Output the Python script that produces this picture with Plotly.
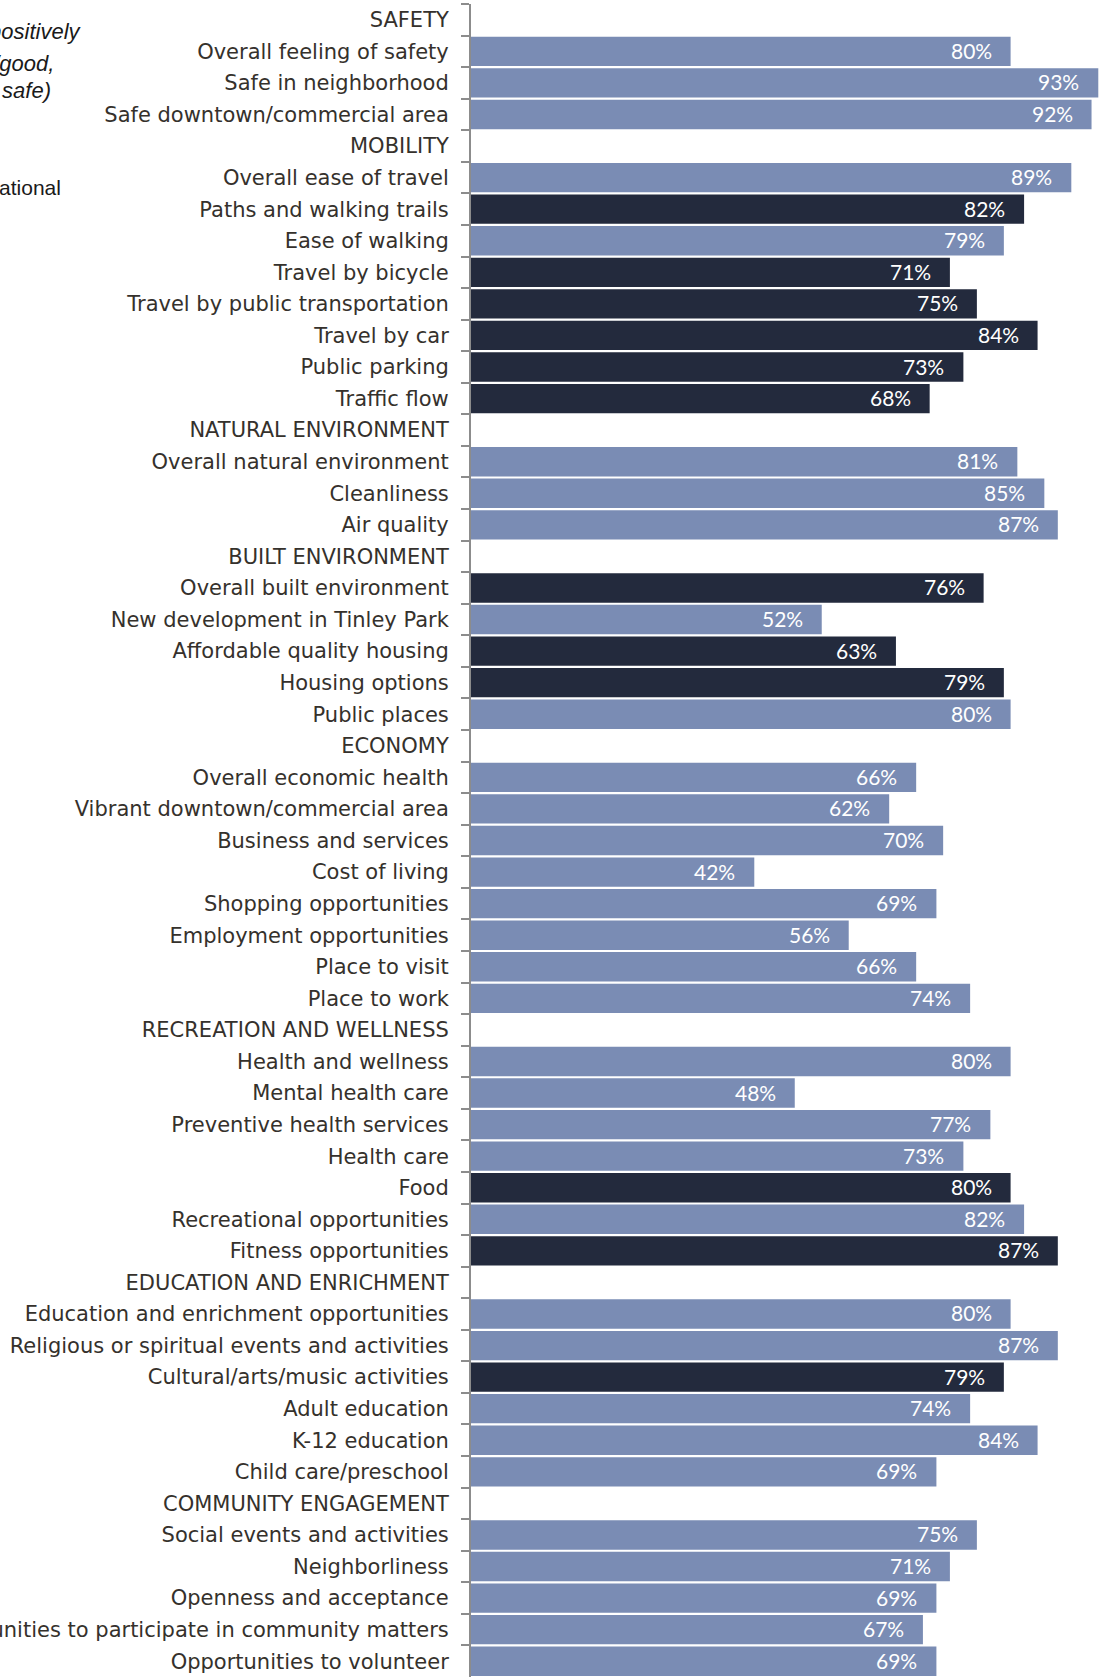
import plotly.graph_objects as go

# Section headers and the items under each (headers carry no bar)
categories = [
    "SAFETY",
    "Overall feeling of safety",
    "Safe in neighborhood",
    "Safe downtown/commercial area",
    "MOBILITY",
    "Overall ease of travel",
    "Paths and walking trails",
    "Ease of walking",
    "Travel by bicycle",
    "Travel by public transportation",
    "Travel by car",
    "Public parking",
    "Traffic flow",
    "NATURAL ENVIRONMENT",
    "Overall natural environment",
    "Cleanliness",
    "Air quality",
    "BUILT ENVIRONMENT",
    "Overall built environment",
    "New development in Tinley Park",
    "Affordable quality housing",
    "Housing options",
    "Public places",
    "ECONOMY",
    "Overall economic health",
    "Vibrant downtown/commercial area",
    "Business and services",
    "Cost of living",
    "Shopping opportunities",
    "Employment opportunities",
    "Place to visit",
    "Place to work",
    "RECREATION AND WELLNESS",
    "Health and wellness",
    "Mental health care",
    "Preventive health services",
    "Health care",
    "Food",
    "Recreational opportunities",
    "Fitness opportunities",
    "EDUCATION AND ENRICHMENT",
    "Education and enrichment opportunities",
    "Religious or spiritual events and activities",
    "Cultural/arts/music activities",
    "Adult education",
    "K-12 education",
    "Child care/preschool",
    "COMMUNITY ENGAGEMENT",
    "Social events and activities",
    "Neighborliness",
    "Openness and acceptance",
    "Opportunities to participate in community matters",
    "Opportunities to volunteer",
]

# Percent rating positively (None for section headers)
values = [
    None, 80, 93, 92,
    None, 89, 82, 79, 71, 75, 84, 73, 68,
    None, 81, 85, 87,
    None, 76, 52, 63, 79, 80,
    None, 66, 62, 70, 42, 69, 56, 66, 74,
    None, 80, 48, 77, 73, 80, 82, 87,
    None, 80, 87, 79, 74, 84, 69,
    None, 75, 71, 69, 67, 69,
]

# Comparison to the national benchmark: "S" similar, "H" higher
comparison = [
    None, "S", "S", "S",
    None, "S", "H", "S", "H", "H", "H", "H", "H",
    None, "S", "S", "S",
    None, "H", "S", "H", "H", "S",
    None, "S", "S", "S", "S", "S", "S", "S", "S",
    None, "S", "S", "S", "S", "H", "S", "H",
    None, "S", "S", "H", "S", "S", "S",
    None, "S", "S", "S", "S", "S",
]

SIMILAR = "#7a8cb4"
HIGHER = "#232a3d"
palette = {"S": SIMILAR, "H": HIGHER, None: SIMILAR}
bar_colors = [palette[c] for c in comparison]

W, H = 1100, 1677
ML, MT = 471, 4
plot_w = W - ML
plot_h = H - MT
PX_PER_PCT = 6.745

fig = go.Figure(
    go.Bar(
        x=values,
        y=categories,
        orientation="h",
        marker=dict(color=bar_colors, line=dict(width=0)),
        hoverinfo="skip",
    )
)

# Value labels inside the bar ends
for cat, v in zip(categories, values):
    if v is None:
        continue
    fig.add_annotation(
        x=v, y=cat, xref="x", yref="y",
        text=f"{v}%", showarrow=False,
        xanchor="right", yanchor="middle", xshift=-17, yshift=1,
        font=dict(family="Lato, Liberation Sans, sans-serif", size=21, color="#ffffff"),
    )


def px_x(px):
    return (px - ML) / plot_w


def px_y(py):
    return 1 - (py - MT) / plot_h


# Legend notes on the left side
notes = [
    ("Percent rating positively", 84, 31, True),
    ("(e.g., excellent/good,", 56, 63, True),
    ("very/somewhat safe)", 53, 90, True),
    ("Higher than national", 63, 188, False),
]
for txt, right, mid, italic in notes:
    fig.add_annotation(
        x=px_x(right), y=px_y(mid), xref="paper", yref="paper",
        text=txt, showarrow=False, xanchor="right", yanchor="middle",
        font=dict(family="Liberation Sans, Arial, sans-serif", size=22 if italic else 21,
                  color="#1a1a1a", style="italic" if italic else "normal"),
    )

fig.update_layout(
    width=W, height=H,
    margin=dict(l=ML, r=0, t=MT, b=0, autoexpand=False),
    paper_bgcolor="white", plot_bgcolor="white",
    bargap=0.07,
    showlegend=False,
)
fig.update_xaxes(
    range=[0, plot_w / PX_PER_PCT],
    showgrid=False, zeroline=False, showticklabels=False, ticks="",
    fixedrange=True,
)
fig.update_yaxes(
    type="category",
    categoryorder="array", categoryarray=categories,
    range=[len(categories) - 0.5, -0.5],
    tickson="boundaries",
    ticks="outside", ticklen=8, tickwidth=2, tickcolor="#8c8c8c",
    showline=True, linecolor="#8c8c8c", linewidth=2,
    showgrid=False, zeroline=False,
    ticklabelstandoff=16,
    automargin=False,
    tickfont=dict(family="DejaVu Sans, Verdana, sans-serif", size=21, color="#35312c"),
    fixedrange=True,
)

fig.write_html("out.html", config={"displayModeBar": False})
